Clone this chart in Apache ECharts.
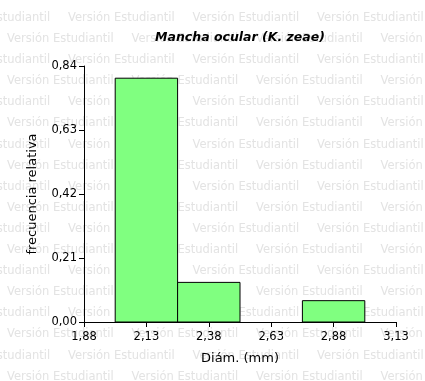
<!DOCTYPE html>
<html>
<head>
<meta charset="utf-8">
<script src="https://cdn.jsdelivr.net/npm/echarts@6/dist/echarts.min.js"></script>
<style>
  html, body { margin: 0; padding: 0; background: #fff; }
  #chart { width: 425px; height: 381px; }
</style>
</head>
<body>
<div id="chart"></div>
<script>
// Histogram: relative frequency of ocular spot diameter (K. zeae)
const binMids = [2.13, 2.38, 2.63, 2.88];        // class marks (mm)
const relFreq = [0.80, 0.13, 0.00, 0.07];        // relative frequency per class
const binWidth = 0.25;
const xTicks = [1.88, 2.13, 2.38, 2.63, 2.88, 3.13];
const yMax = 0.84;
const yStep = 0.21;

const FONT = 'DejaVu Sans';
const comma = v => v.toFixed(2).replace('.', ',');

// Background "Versión Estudiantil" stamp, repeated in staggered rows
const stamp = [];
for (let r = 0; r < 18; r++) {
  const y = 18 + r * 21.1;
  const x0 = (r % 2 === 0) ? -56.5 : 7;
  for (let k = 0; k < 5; k++) {
    stamp.push({
      type: 'text', z: -10, silent: true,
      x: x0 + k * 124.5, y: y,
      style: { text: 'Versión Estudiantil', fill: '#e3e3e3',
               font: '11.5px "DejaVu Sans"', textVerticalAlign: 'middle' }
    });
  }
}

const chart = echarts.init(document.getElementById('chart'), null, { renderer: 'canvas' });
chart.setOption({
  animation: false,
  backgroundColor: '#fff',
  graphic: stamp.concat([{
    type: 'text', z: 10, x: 240, y: 38,
    style: { text: 'Mancha ocular (K. zeae)', fill: '#000',
             font: 'italic bold 12.5px "DejaVu Sans"',
             textAlign: 'center', textVerticalAlign: 'middle' }
  }]),
  grid: { left: 84, right: 29, top: 66, bottom: 59, containLabel: false },
  xAxis: {
    type: 'value', min: xTicks[0], max: xTicks[xTicks.length - 1],
    name: 'Diám. (mm)', nameLocation: 'middle', nameGap: 30,
    nameTextStyle: { color: '#000', fontFamily: FONT, fontSize: 13 },
    axisLine: { show: true, onZero: false, lineStyle: { color: '#000', width: 1 } },
    axisTick: { show: true, length: 5, inside: false, customValues: xTicks,
                lineStyle: { color: '#000' } },
    axisLabel: { customValues: xTicks, color: '#000', fontFamily: FONT, fontSize: 11.5,
                 margin: 9, formatter: v => comma(v), showMinLabel: true, showMaxLabel: true },
    splitLine: { show: false }
  },
  yAxis: {
    type: 'value', min: 0, max: yMax, interval: yStep,
    name: 'frecuencia relativa', nameLocation: 'middle', nameGap: 45, nameRotate: 90,
    nameTextStyle: { color: '#000', fontFamily: FONT, fontSize: 13 },
    axisLine: { show: true, lineStyle: { color: '#000', width: 1 } },
    axisTick: { show: true, length: 5, inside: false, lineStyle: { color: '#000' } },
    axisLabel: { color: '#000', fontFamily: FONT, fontSize: 11.5, margin: 7,
                 formatter: v => comma(v) },
    splitLine: { show: false }
  },
  series: [{
    type: 'custom',
    data: binMids.map((m, i) => [m, relFreq[i]]),
    renderItem: function (params, api) {
      const mid = api.value(0), val = api.value(1);
      if (!(val > 0)) return null;
      const p0 = api.coord([mid - binWidth / 2, val]);
      const p1 = api.coord([mid + binWidth / 2, 0]);
      return {
        type: 'rect',
        shape: { x: p0[0], y: p0[1], width: p1[0] - p0[0], height: p1[1] - p0[1] },
        style: { fill: '#80ff80', stroke: '#000', lineWidth: 1 }
      };
    },
    z: 2
  }]
});
</script>
</body>
</html>
